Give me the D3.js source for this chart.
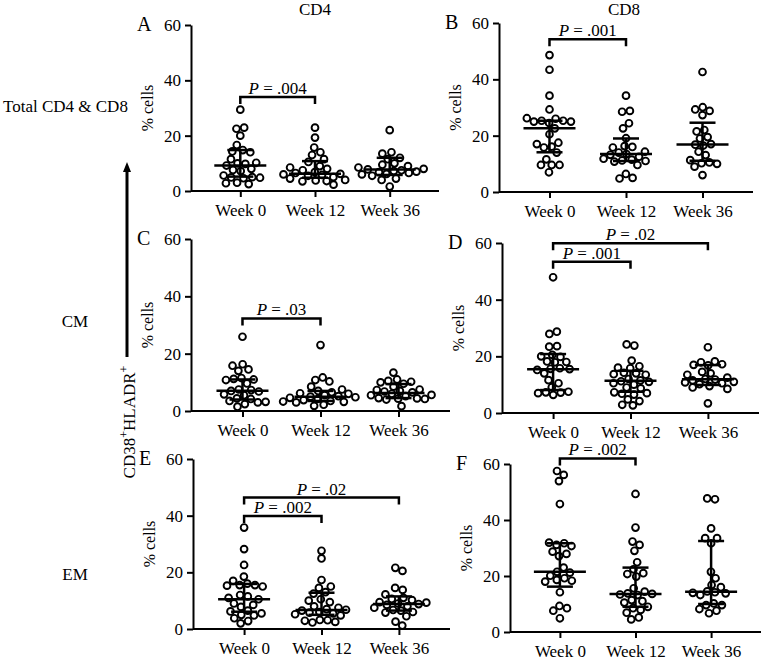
<!DOCTYPE html>
<html>
<head>
<meta charset="utf-8">
<script src="https://cdn.jsdelivr.net/npm/d3@7"></script>
<style>
  body { margin: 0; background: #fff; }
  svg text { font-family: "Liberation Serif", "Times New Roman", serif !important; fill: #000; }
</style>
</head>
<body>
<svg id="chart" width="763" height="661" font-family="Liberation Serif, serif"></svg>
<script>
'use strict';

var weeks = ["Week 0", "Week 12", "Week 36"];
var yTicks = [0, 20, 40, 60];

// % cells per patient, one list per week
var totalCD4 = [
  [29.4, 22.9, 22.5, 20.0, 16.6, 14.8, 14.3, 14.0, 11.5, 10.2, 10.0, 9.8, 9.2, 8.0, 7.6, 7.2, 5.6, 5.0, 4.9, 4.8, 4.6, 3.0, 2.8, 2.5],
  [22.9, 19.3, 15.7, 14.0, 13.0, 11.5, 10.5, 9.0, 8.5, 8.0, 7.5, 6.8, 6.5, 6.2, 6.0, 5.8, 5.5, 5.0, 4.5, 4.0, 3.8, 3.6, 3.5, 2.3],
  [22.0, 14.0, 13.5, 12.0, 11.5, 10.0, 9.5, 9.0, 8.5, 8.0, 7.8, 7.5, 7.2, 7.0, 6.8, 6.5, 6.2, 6.0, 5.5, 4.5, 4.0, 1.6]
];
var totalCD8 = [
  [48.6, 43.4, 34.2, 29.3, 26.2, 26.0, 25.3, 25.3, 25.0, 25.0, 24.5, 22.6, 20.5, 17.5, 17.0, 16.1, 15.8, 14.0, 11.6, 9.6, 9.6, 9.6, 7.0],
  [34.2, 28.8, 28.5, 24.4, 22.6, 19.1, 16.3, 16.0, 15.8, 14.3, 14.0, 13.5, 13.2, 12.5, 11.8, 11.5, 11.2, 11.0, 10.8, 9.6, 6.4, 5.0, 4.8],
  [42.6, 30.1, 29.3, 28.8, 27.3, 22.0, 21.5, 19.5, 19.0, 17.0, 16.8, 16.5, 14.3, 13.1, 11.3, 10.5, 10.2, 10.0, 9.0, 6.0]
];
var cmCD4 = [
  [25.9, 16.3, 15.8, 14.5, 14.0, 11.5, 11.2, 11.0, 10.8, 9.6, 7.5, 7.3, 7.0, 6.8, 5.8, 5.5, 4.4, 4.2, 3.5, 3.2, 3.0, 2.4, 1.5],
  [23.0, 11.7, 10.8, 10.3, 8.5, 7.5, 7.0, 6.5, 6.2, 6.0, 5.5, 5.2, 5.0, 4.8, 4.6, 4.2, 3.8, 3.5, 3.3, 3.2, 3.0, 2.2, 1.8],
  [13.4, 11.0, 10.5, 10.2, 10.0, 9.5, 8.5, 7.5, 7.3, 7.0, 6.8, 6.5, 6.0, 5.6, 5.5, 5.2, 4.5, 4.4, 4.3, 4.2, 4.0, 1.7]
];
var cmCD8 = [
  [47.9, 28.7, 27.9, 23.6, 23.4, 20.5, 20.0, 19.8, 18.2, 18.0, 17.9, 15.8, 15.6, 15.5, 15.2, 14.0, 11.6, 10.5, 9.1, 7.5, 7.3, 7.2, 7.0, 6.4],
  [24.2, 23.8, 18.5, 16.5, 16.0, 15.8, 14.2, 14.0, 13.7, 13.5, 12.0, 11.5, 11.2, 11.0, 10.5, 10.0, 9.0, 8.7, 7.3, 7.0, 6.8, 6.5, 4.8, 4.2, 2.9, 2.7],
  [23.2, 18.2, 17.9, 17.2, 17.0, 16.8, 14.5, 14.0, 13.5, 12.5, 12.0, 11.8, 11.5, 11.0, 10.8, 10.5, 10.2, 9.5, 9.0, 8.5, 3.4]
];
var emCD4 = [
  [35.8, 28.2, 22.6, 18.5, 17.0, 16.0, 15.5, 15.5, 15.3, 15.0, 12.0, 11.5, 11.0, 10.5, 9.0, 8.5, 7.8, 6.5, 6.2, 5.5, 5.0, 4.8, 3.8, 2.8, 2.0],
  [27.6, 24.9, 17.3, 15.0, 14.5, 13.0, 12.5, 10.5, 10.0, 9.5, 8.0, 7.5, 7.0, 6.8, 6.5, 6.0, 5.8, 5.5, 5.2, 4.8, 3.2, 3.1, 2.9, 2.5, 2.3],
  [21.6, 20.5, 14.5, 13.8, 12.2, 11.0, 10.6, 10.2, 9.5, 9.3, 9.0, 8.8, 8.5, 8.0, 7.5, 6.7, 6.5, 6.0, 5.8, 4.5, 2.6, 1.2]
];
var emCD8 = [
  [57.5, 56.1, 53.9, 45.7, 31.9, 31.7, 31.1, 30.7, 28.7, 27.9, 27.1, 23.0, 21.5, 21.2, 20.1, 19.2, 18.6, 18.3, 18.0, 14.2, 9.3, 8.5, 7.6, 4.9],
  [49.3, 37.3, 32.3, 31.1, 29.0, 24.9, 22.4, 21.0, 20.7, 19.8, 15.6, 14.4, 13.8, 13.6, 13.4, 13.2, 11.4, 11.0, 10.5, 9.0, 8.5, 7.9, 6.9, 5.2, 4.5],
  [47.7, 47.4, 37.0, 33.5, 33.5, 31.7, 21.5, 19.2, 16.8, 16.0, 14.5, 14.2, 14.0, 13.8, 13.2, 10.2, 9.6, 9.6, 8.2, 7.6, 6.7]
];

// [median, q1, q3] per week, as drawn
var totalCD4Stats = [[9.2, 5.2, 14.8], [6.2, 4.8, 10.8], [7.8, 5.8, 12.0]];
var totalCD8Stats = [[22.6, 14.1, 25.3], [13.5, 11.0, 19.0], [16.9, 11.1, 24.6]];
var cmCD4Stats = [[7.1, 4.0, 11.0], [5.0, 3.5, 7.0], [6.3, 4.5, 9.4]];
var cmCD8Stats = [[15.4, 8.1, 20.8], [11.4, 7.5, 14.9], [11.9, 9.9, 16.9]];
var emCD4Stats = [[10.5, 6.1, 15.9], [6.7, 5.0, 12.8], [8.8, 6.5, 11.5]];
var emCD8Stats = [[21.5, 16.2, 31.7], [13.6, 9.0, 23.0], [14.4, 10.0, 32.5]];

// significance brackets: [fromWeek, toWeek, level, p]
var totalCD4P = [[0, 1, 34, ".004"]];
var totalCD8P = [[0, 1, 54.2, ".001"]];
var cmCD4P = [[0, 1, 32.3, ".03"]];
var cmCD8P = [[0, 1, 53.4, ".001"], [0, 2, 59.9, ".02"]];
var emCD4P = [[0, 1, 39.9, ".002"], [0, 2, 46.4, ".02"]];
var emCD8P = [[0, 1, 62, ".002"]];

var FONT = "'Liberation Serif', 'Times New Roman', serif";
var svg = d3.select("#chart");

var panels = [
  { letter: "A", values: totalCD4, stats: totalCD4Stats, p: totalCD4P, left: 191, right: 439, top: 25, bottom: 191 },
  { letter: "B", values: totalCD8, stats: totalCD8Stats, p: totalCD8P, left: 499, right: 753, top: 23, bottom: 192 },
  { letter: "C", values: cmCD4, stats: cmCD4Stats, p: cmCD4P, left: 191, right: 450, top: 239, bottom: 411 },
  { letter: "D", values: cmCD8, stats: cmCD8Stats, p: cmCD8P, left: 502, right: 759, top: 243, bottom: 413 },
  { letter: "E", values: emCD4, stats: emCD4Stats, p: emCD4P, left: 193, right: 450, top: 459, bottom: 629 },
  { letter: "F", values: emCD8, stats: emCD8Stats, p: emCD8P, left: 510, right: 761, top: 464, bottom: 632 }
];

function label(sel, size) {
  return sel.style("font-family", FONT).style("font-size", size + "px").style("fill", "#000");
}

function swarm(vals, cx, y) {
  var nodes = vals.map(function(v, i) {
    return { v: v, x: cx + ((i % 2) ? 1 : -1) * (i % 5) * 0.6, fy: y(v) };
  });
  var sim = d3.forceSimulation(nodes)
    .force("x", d3.forceX(cx).strength(0.14))
    .force("collide", d3.forceCollide(3.9))
    .stop();
  for (var i = 0; i < 300; i++) sim.tick();
  return nodes;
}

panels.forEach(function(pn) {
  var y = d3.scaleLinear().domain([0, 60]).range([pn.bottom, pn.top]);
  var x = d3.scalePoint().domain(weeks).range([pn.left, pn.right]).padding(0.66);
  var g = svg.append("g");

  // axes
  var yAxis = g.append("g")
    .attr("transform", "translate(" + pn.left + ",0)")
    .call(d3.axisLeft(y).tickValues(yTicks).tickSize(6).tickSizeOuter(0).tickPadding(4));
  var xAxis = g.append("g")
    .attr("transform", "translate(0," + pn.bottom + ")")
    .call(d3.axisBottom(x).tickSize(6).tickSizeOuter(0).tickPadding(7));
  [yAxis, xAxis].forEach(function(a) {
    a.attr("font-family", null).attr("font-size", null);
    a.select(".domain").attr("stroke", "#000").attr("stroke-width", 2);
    a.selectAll(".tick line").attr("stroke", "#000").attr("stroke-width", 2);
    label(a.selectAll(".tick text"), 17);
  });
  xAxis.select(".domain").attr("d", "M" + pn.left + ",0H" + pn.right);

  label(g.append("text"), 16)
    .attr("transform", "translate(" + (pn.left - 38) + "," + ((pn.top + pn.bottom) / 2) + ") rotate(-90)")
    .attr("text-anchor", "middle")
    .text("% cells");

  label(g.append("text"), 20)
    .attr("x", pn.left - 54)
    .attr("y", pn.top + 6)
    .text(pn.letter);

  // dots
  pn.values.forEach(function(vals, wi) {
    var nodes = swarm(vals, x(weeks[wi]), y);
    g.append("g").selectAll("circle")
      .data(nodes)
      .enter().append("circle")
      .attr("cx", function(d) { return d.x; })
      .attr("cy", function(d) { return d.fy; })
      .attr("r", 3.4)
      .attr("fill", "#fff")
      .attr("stroke", "#000")
      .attr("stroke-width", 1.9);
  });

  // median + IQR
  pn.stats.forEach(function(s, wi) {
    var cx = x(weeks[wi]);
    var sg = g.append("g").attr("stroke", "#000").attr("stroke-width", 2.5);
    sg.append("line").attr("x1", cx).attr("x2", cx).attr("y1", y(s[1])).attr("y2", y(s[2]));
    sg.append("line").attr("x1", cx - 26).attr("x2", cx + 26).attr("y1", y(s[0])).attr("y2", y(s[0]));
    sg.append("line").attr("x1", cx - 13).attr("x2", cx + 13).attr("y1", y(s[1])).attr("y2", y(s[1]));
    sg.append("line").attr("x1", cx - 13).attr("x2", cx + 13).attr("y1", y(s[2])).attr("y2", y(s[2]));
  });

  // brackets
  pn.p.forEach(function(b) {
    var x1 = x(weeks[b[0]]), x2 = x(weeks[b[1]]), ly = y(b[2]);
    g.append("path")
      .attr("d", "M" + x1 + "," + (ly + 7) + "V" + ly + "H" + x2 + "V" + (ly + 7))
      .attr("fill", "none")
      .attr("stroke", "#000")
      .attr("stroke-width", 2.5);
    var t = label(g.append("text"), 17)
      .attr("x", (x1 + x2) / 2)
      .attr("y", ly - 3)
      .attr("text-anchor", "middle");
    t.append("tspan").style("font-style", "italic").text("P");
    t.append("tspan").text(" = " + b[3]);
  });
});

// column titles
label(svg.append("text"), 17).attr("x", 315).attr("y", 15).attr("text-anchor", "middle").text("CD4");
label(svg.append("text"), 17).attr("x", 624).attr("y", 15).attr("text-anchor", "middle").text("CD8");

// row labels
label(svg.append("text"), 17).attr("x", 3).attr("y", 112).text("Total CD4 & CD8");
label(svg.append("text"), 17).attr("x", 75).attr("y", 327).attr("text-anchor", "middle").text("CM");
label(svg.append("text"), 17).attr("x", 75).attr("y", 580).attr("text-anchor", "middle").text("EM");

// arrow + rotated label
svg.append("line")
  .attr("x1", 127).attr("x2", 127).attr("y1", 357).attr("y2", 170)
  .attr("stroke", "#000").attr("stroke-width", 3);
svg.append("path")
  .attr("d", "M127,162L123,172L131,172Z")
  .attr("fill", "#000");

var rot = label(svg.append("text"), 17)
  .attr("transform", "translate(135,422) rotate(-90)")
  .attr("text-anchor", "middle");
rot.append("tspan").text("CD38");
rot.append("tspan").attr("baseline-shift", "super").style("font-size", "12px").text("+");
rot.append("tspan").text("HLADR");
rot.append("tspan").attr("baseline-shift", "super").style("font-size", "12px").text("+");
</script>
</body>
</html>
